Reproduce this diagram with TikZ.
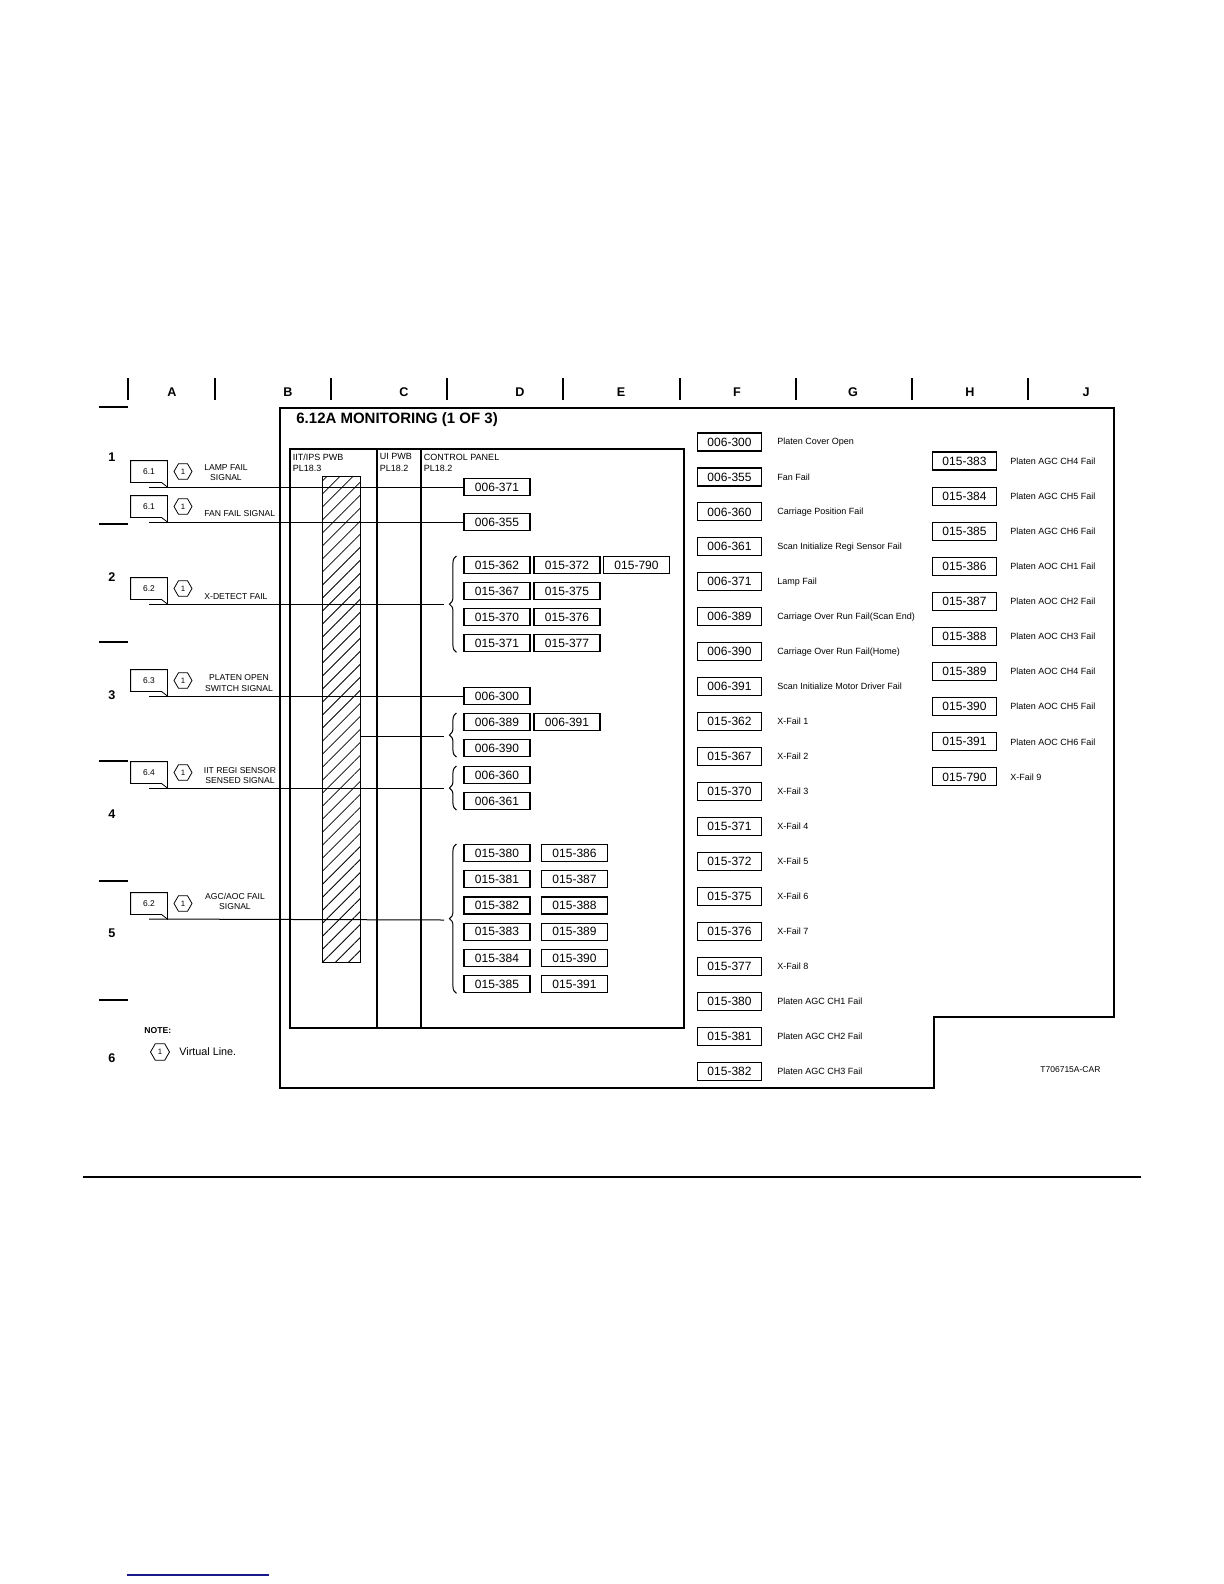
\documentclass[tikz,border=0pt]{standalone}
\usepackage{fontspec}
\setmainfont{Liberation Sans}
\usetikzlibrary{shapes.geometric,decorations.pathreplacing,patterns.meta}
\definecolor{linkblue}{RGB}{25,25,140}

\begin{document}
\begin{tikzpicture}[x=0.5pt,y=-0.5pt,
  codebox/.style={draw,line width=0.55pt,minimum width=33pt,minimum height=8.5pt,inner sep=0pt,font=\fontsize{6}{7}\selectfont},
  listbox/.style={codebox,minimum width=32pt,minimum height=9pt},
  desctext/.style={anchor=west,inner sep=0pt,font=\fontsize{4.5}{5.5}\selectfont},
  sig/.style={line width=0.5pt},
  hexmark/.style={draw,regular polygon,regular polygon sides=6,minimum size=9pt,inner sep=0pt,line width=0.4pt,font=\fontsize{3.9}{4.5}\selectfont},
  refflag/.style={inner sep=0pt,minimum width=18pt,minimum height=10.5pt,font=\fontsize{4.2}{5}\selectfont},
  sigtext/.style={inner sep=0pt,align=center,font=\fontsize{4.3}{5.25}\selectfont},
  hdr/.style={anchor=west,inner sep=0pt,align=left,font=\fontsize{4.5}{5.6}\selectfont},
  gridlabel/.style={inner sep=0pt,font=\fontsize{6.3}{7}\bfseries\selectfont},
  curly/.style={decorate,decoration={brace,amplitude=3.5pt},line width=0.5pt},
  hatchbar/.style={draw,line width=0.5pt,minimum width=19pt,minimum height=243pt,inner sep=0pt,
    pattern={Lines[angle=45,distance=4.6pt,line width=0.4pt]}}]
\useasboundingbox (0,0) rectangle (1224,1584);

\foreach \x in {128,215,331,447,563,680,796,912,1028}
  \draw[line width=0.55pt] (\x,378) -- (\x,400);
\foreach \x/\col in {172/A,288/B,404/C,520/D,621/E,737/F,853/G,970/H,1086/J}
  \node[gridlabel] at (\x,392) {\col};
\foreach \y in {407,524,642,761,881,1000}
  \draw[line width=0.6pt] (99,\y) -- (128,\y);
\foreach \y/\row in {457/1,577/2,695/3,814/4,933/5,1058/6}
  \node[gridlabel] at (112,\y) {\row};

\draw[line width=1pt] (280,408) -- (1114,408) -- (1114,1017) -- (934,1017) -- (934,1088) -- (280,1088) -- cycle;
\node[anchor=base west,inner sep=0pt,font=\fontsize{7.5}{9}\bfseries\selectfont] at (296,423.4) {6.12A MONITORING (1 OF 3)};

\draw[line width=0.6pt] (290,449) rectangle (684,1028);
\draw[line width=0.6pt] (377,449) -- (377,1028);
\draw[line width=0.6pt] (421,449) -- (421,1028);
\node[hdr] at (292.5,462.5) {IIT/IPS PWB\\PL18.3};
\node[hdr] at (379.5,462.5) {UI PWB\\PL18.2};
\node[hdr] at (423.5,462.5) {CONTROL PANEL\\PL18.2};

\node[hatchbar] (bar) at (341,719) {};

\node[codebox] (p006371) at (497,487) {006-371};
\node[codebox] (p006355) at (497,522) {006-355};
\foreach \a/\b [count=\i from 0] in {362/372,367/375,370/376,371/377} {
  \node[codebox] (x\a) at (497,565+26.1*\i) {015-\a};
  \node[codebox] (x\b) at (567,565+26.1*\i) {015-\b};
}
\node[codebox] (x790) at (636.5,565) {015-790};
\node[codebox] (p006300) at (497,696) {006-300};
\node[codebox] (p006389) at (497,722) {006-389};
\node[codebox] (p006391) at (567,722) {006-391};
\node[codebox] (p006390) at (497,748) {006-390};
\node[codebox] (p006360) at (497,775) {006-360};
\node[codebox] (p006361) at (497,801) {006-361};
\foreach \a/\b [count=\i from 0] in {380/386,381/387,382/388,383/389,384/390,385/391} {
  \node[codebox] (g\a) at (497,853+26.26*\i) {015-\a};
  \node[codebox] (g\b) at (574.5,853+26.26*\i) {015-\b};
}

\draw[curly] ([xshift=-3.5pt]x371.south west) -- ([xshift=-3.5pt]x362.north west);
\draw[curly] ([xshift=-3.5pt]p006390.south west) -- ([xshift=-3.5pt]p006389.north west);
\draw[curly] ([xshift=-3.5pt]p006361.south west) -- ([xshift=-3.5pt]p006360.north west);
\draw[curly] ([xshift=-3.5pt]g385.south west) -- ([xshift=-3.5pt]g380.north west);
\coordinate (b1) at (444,604);
\coordinate (b2) at (444,736);
\coordinate (b3) at (444,788);
\coordinate (b4) at (444,920);

\foreach \y/\lbl [count=\i] in {487/6.1,522/6.1,604/6.2,696/6.3,788/6.4,919/6.2} {
  \coordinate (s\i) at (149,\y);
  \node[refflag] (r\i) at (149,\y-15.5) {\lbl};
  \draw[line width=0.4pt] (r\i.south west) -- (r\i.north west) -- (r\i.north east) -- (r\i.east |- s\i) -- ([xshift=-3pt]r\i.south east) -- cycle;
  \node[hexmark] (h\i) at (183,\y-15.5) {1};
}
\node[sigtext] at (226,472.7) {LAMP FAIL\\SIGNAL};
\node[sigtext,anchor=west] at (204,514) {FAN FAIL SIGNAL};
\node[sigtext,anchor=west] at (204,597) {X-DETECT FAIL};
\node[sigtext] at (239,683) {PLATEN OPEN\\SWITCH SIGNAL};
\node[sigtext] at (240,775.3) {IIT REGI SENSOR\\SENSED SIGNAL};
\node[sigtext] at (235,901.5) {AGC/AOC FAIL\\SIGNAL};

\draw[sig] (s1) -- (p006371);
\draw[sig] (s2) -- (p006355);
\draw[sig] (s3) -- (b1);
\draw[sig] (s4) -- (p006300);
\draw[sig] (s5) -- (b3);
\draw[sig] (s6) -- (b4);
\draw[sig] (bar.east |- b2) -- (b2);

\foreach \cd/\txt [count=\i from 0] in {006-300/Platen Cover Open,006-355/Fan Fail,006-360/Carriage Position Fail,006-361/Scan Initialize Regi Sensor Fail,006-371/Lamp Fail,006-389/Carriage Over Run Fail(Scan End),006-390/Carriage Over Run Fail(Home),006-391/Scan Initialize Motor Driver Fail,015-362/X-Fail 1,015-367/X-Fail 2,015-370/X-Fail 3,015-371/X-Fail 4,015-372/X-Fail 5,015-375/X-Fail 6,015-376/X-Fail 7,015-377/X-Fail 8,015-380/Platen AGC CH1 Fail,015-381/Platen AGC CH2 Fail,015-382/Platen AGC CH3 Fail} {
  \node[listbox] (f\i) at (729.5,442+34.95*\i) {\cd};
  \node[desctext] at (777,442+34.95*\i) {\txt};
}
\foreach \cd/\txt [count=\i from 0] in {015-383/Platen AGC CH4 Fail,015-384/Platen AGC CH5 Fail,015-385/Platen AGC CH6 Fail,015-386/Platen AOC CH1 Fail,015-387/Platen AOC CH2 Fail,015-388/Platen AOC CH3 Fail,015-389/Platen AOC CH4 Fail,015-390/Platen AOC CH5 Fail,015-391/Platen AOC CH6 Fail,015-790/X-Fail 9} {
  \node[listbox] (k\i) at (964.5,461+35.1*\i) {\cd};
  \node[desctext] at (1010,461+35.1*\i) {\txt};
}

\node[anchor=west,inner sep=0pt,font=\fontsize{4.3}{5}\bfseries\selectfont] at (144,1031) {NOTE:};
\node[hexmark,minimum size=9.5pt] (note) at (160,1052) {1};
\node[anchor=west,inner sep=0pt,font=\fontsize{5.4}{6.5}\selectfont] at (179,1052) {Virtual Line.};
\node[anchor=west,inner sep=0pt,font=\fontsize{4.25}{5}\selectfont] at (1040,1070) {T706715A-CAR};

\draw[line width=0.75pt] (83,1177) -- (1141,1177);
\draw[linkblue,line width=0.8pt] (127,1575) -- (269,1575);
\end{tikzpicture}
\end{document}
